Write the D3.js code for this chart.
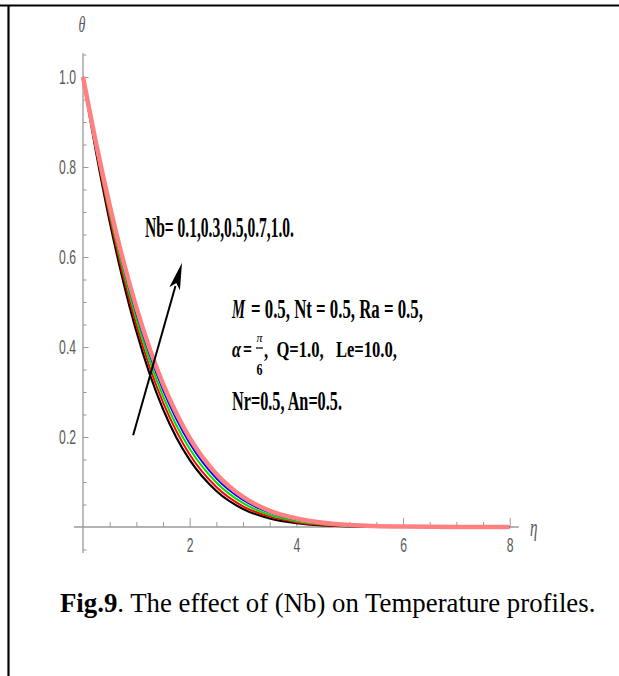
<!DOCTYPE html>
<html><head><meta charset="utf-8">
<script src="https://cdn.jsdelivr.net/npm/d3@7"></script>
<style>
html,body{margin:0;padding:0;background:#fff;}
svg{display:block;}
</style></head>
<body>
<svg id="chart" width="619" height="676"></svg>
<script>
// ---- data ----
const eta = [0, 0.25, 0.5, 0.75, 1, 1.25, 1.5, 1.75, 2, 2.5, 3, 3.5, 4, 4.5, 5, 6, 7, 8];
const nbValues = ["0.1", "0.3", "0.5", "0.7", "1.0"];
const thetaNb01 = [1, 0.830, 0.679, 0.548, 0.435, 0.340, 0.262, 0.199, 0.149, 0.080, 0.040, 0.019, 0.0086, 0.0036, 0.0014, 0.0002, 0, 0];
const thetaNb03 = [1, 0.836, 0.689, 0.560, 0.449, 0.355, 0.277, 0.213, 0.161, 0.089, 0.046, 0.023, 0.0107, 0.0047, 0.002, 0.0003, 0, 0];
const thetaNb05 = [1, 0.841, 0.698, 0.572, 0.463, 0.369, 0.291, 0.226, 0.174, 0.099, 0.053, 0.027, 0.013, 0.0061, 0.0027, 0.0005, 0.0001, 0];
const thetaNb07 = [1, 0.846, 0.707, 0.583, 0.475, 0.383, 0.305, 0.240, 0.186, 0.108, 0.060, 0.032, 0.016, 0.0076, 0.0035, 0.0007, 0.0001, 0];
const thetaNb10 = [1, 0.850, 0.715, 0.594, 0.488, 0.396, 0.318, 0.253, 0.198, 0.118, 0.067, 0.036, 0.019, 0.0094, 0.0044, 0.0009, 0.0001, 0];
const seriesColors = ["#000000", "#ff0000", "#00e000", "#0000ff", "#ff8080"];
const seriesWidths = [2.2, 2, 2, 2, 4.5];
const xMajorTicks = [2, 4, 6, 8];
const xMinorTicks = [0.5, 1, 1.5, 2.5, 3, 3.5, 4.5, 5, 5.5, 6.5, 7, 7.5];
const yMajorTicks = [0.2, 0.4, 0.6, 0.8, 1.0];
const yMinorTicks = [-0.05, 0.05, 0.1, 0.15, 0.25, 0.3, 0.35, 0.45, 0.5, 0.55, 0.65, 0.7, 0.75, 0.85, 0.9, 0.95, 1.05];
const arrowTail = [0.94, 0.204];
const arrowTip = [1.856, 0.587];

const series = [thetaNb01, thetaNb03, thetaNb05, thetaNb07, thetaNb10];

const svg = d3.select("#chart");

// frame lines
svg.append("line").attr("x1", 0).attr("x2", 619).attr("y1", 5.5).attr("y2", 5.5)
  .attr("stroke", "#000").attr("stroke-width", 2);
svg.append("line").attr("x1", 8.5).attr("x2", 8.5).attr("y1", 5).attr("y2", 676)
  .attr("stroke", "#000").attr("stroke-width", 2.2);

const x = d3.scaleLinear().domain([0, 8]).range([83, 509.7]);
const y = d3.scaleLinear().domain([0, 1]).range([527, 77]);

const axisColor = "#9a9a9a";
const labelColor = "#5a5a5a";
const sx = 0.58;

// axis lines
svg.append("line").attr("x1", x(-0.17)).attr("x2", x(8.17)).attr("y1", y(0)).attr("y2", y(0))
  .attr("stroke", axisColor).attr("stroke-width", 1.3);
svg.append("line").attr("x1", x(0)).attr("x2", x(0)).attr("y1", y(1.053)).attr("y2", y(-0.058))
  .attr("stroke", axisColor).attr("stroke-width", 1.3);

// x axis ticks
const gx = svg.append("g").attr("transform", `translate(0,${y(0)})`);
gx.call(d3.axisBottom(x).tickValues(xMinorTicks).tickSize(-5).tickFormat(""))
  .call(g => g.select(".domain").remove())
  .call(g => g.selectAll("line").attr("stroke", axisColor));
const gx2 = svg.append("g").attr("transform", `translate(0,${y(0)})`);
gx2.call(d3.axisBottom(x).tickValues(xMajorTicks).tickSize(-9).tickPadding(10).tickFormat(d3.format("d")))
  .call(g => g.select(".domain").remove())
  .call(g => g.selectAll("line").attr("stroke", axisColor))
  .call(g => g.selectAll("text").attr("fill", labelColor)
     .attr("font-family", "Liberation Sans, Arial, sans-serif").attr("font-size", 21)
     .attr("transform", `scale(${sx},1)`));

// y axis ticks
const gy = svg.append("g").attr("transform", `translate(${x(0)},0)`);
gy.call(d3.axisLeft(y).tickValues(yMinorTicks).tickSize(-3.5).tickFormat(""))
  .call(g => g.select(".domain").remove())
  .call(g => g.selectAll("line").attr("stroke", axisColor));
const gy2 = svg.append("g").attr("transform", `translate(${x(0)},0)`);
gy2.call(d3.axisLeft(y).tickValues(yMajorTicks).tickSize(-5.5).tickPadding(12).tickFormat(d3.format(".1f")))
  .call(g => g.select(".domain").remove())
  .call(g => g.selectAll("line").attr("stroke", axisColor))
  .call(g => g.selectAll("text").attr("fill", labelColor)
     .attr("font-family", "Liberation Sans, Arial, sans-serif").attr("font-size", 21)
     .attr("transform", `scale(${sx},1)`));

// axis labels
svg.append("text").attr("transform", `translate(${x(0) - 1},32) scale(${sx},1)`)
  .attr("text-anchor", "middle").attr("font-family", "Liberation Serif, serif").attr("font-style", "italic")
  .attr("font-size", 24).attr("fill", labelColor).text("θ");
svg.append("text").attr("transform", `translate(${x(8.17) + 15},536) scale(${sx},1)`)
  .attr("text-anchor", "middle").attr("font-family", "Liberation Serif, serif").attr("font-style", "italic")
  .attr("font-size", 26).attr("fill", labelColor).text("η");

// curves
const line = d3.line().x((d, i) => x(eta[i])).y(d => y(d)).curve(d3.curveMonotoneX);
series.forEach((s, k) => {
  svg.append("path").datum(s).attr("d", line).attr("fill", "none")
    .attr("stroke", seriesColors[k]).attr("stroke-width", seriesWidths[k])
    .attr("stroke-linejoin", "round");
});

// arrow
const ax1 = x(arrowTail[0]), ay1 = y(arrowTail[1]), ax2 = x(arrowTip[0]), ay2 = y(arrowTip[1]);
const ang = Math.atan2(ay2 - ay1, ax2 - ax1);
const headLen = 27, headW = 5.5;
const bx = ax2 - headLen * Math.cos(ang), by = ay2 - headLen * Math.sin(ang);
svg.append("line").attr("x1", ax1).attr("y1", ay1).attr("x2", bx + 3 * Math.cos(ang)).attr("y2", by + 3 * Math.sin(ang))
  .attr("stroke", "#000").attr("stroke-width", 2);
svg.append("polygon").attr("points", [
  [ax2, ay2],
  [bx + headW * Math.sin(ang), by - headW * Math.cos(ang)],
  [bx + 6 * Math.cos(ang), by + 6 * Math.sin(ang)],
  [bx - headW * Math.sin(ang), by + headW * Math.cos(ang)]
].map(p => p.join(",")).join(" ")).attr("fill", "#000");

// annotations: fitted by horizontal scaling (text is condensed in the original)
const serif = "Liberation Serif, 'Times New Roman', serif";
function fitText(str, px, py, width, size, opts = {}) {
  const t = svg.append("text").attr("x", 0).attr("y", 0)
    .attr("font-family", serif).attr("font-size", size)
    .attr("font-weight", opts.weight || "bold")
    .attr("font-style", opts.style || "normal")
    .attr("text-anchor", opts.anchor || "start")
    .attr("xml:space", "preserve").text(str);
  const w = t.node().getComputedTextLength();
  t.attr("transform", `translate(${px},${py}) scale(${width / w},1)`);
  return t;
}
fitText("Nb= " + nbValues.join(",") + ".", 145, 237, 149, 29);

fitText("M", 232, 318, 13, 28, {style: "italic"});
fitText("= 0.5, Nt = 0.5, Ra = 0.5,", 251, 318, 172, 28);

fitText("α", 232, 357, 9, 23, {style: "italic"});
fitText("=", 243, 357, 9, 23);
fitText("π", 259.5, 342, 6, 12, {style: "italic", weight: "normal", anchor: "middle"});
svg.append("line").attr("x1", 256).attr("x2", 263).attr("y1", 348).attr("y2", 348)
  .attr("stroke", "#000").attr("stroke-width", 1.2);
fitText("6", 259.5, 375, 6, 17, {anchor: "middle"});
fitText(",  Q=1.0,   Le=10.0,", 264, 357, 133, 24);

fitText("Nr=0.5, An=0.5.", 232, 410, 110, 27);

// caption
const cap = svg.append("text").attr("x", 60).attr("y", 612).attr("font-family", serif)
  .attr("font-size", 26.8).attr("fill", "#000");
cap.append("tspan").attr("font-weight", "bold").text("Fig.9");
cap.append("tspan").text(". The effect of (Nb) on Temperature profiles.");
</script>
</body></html>
